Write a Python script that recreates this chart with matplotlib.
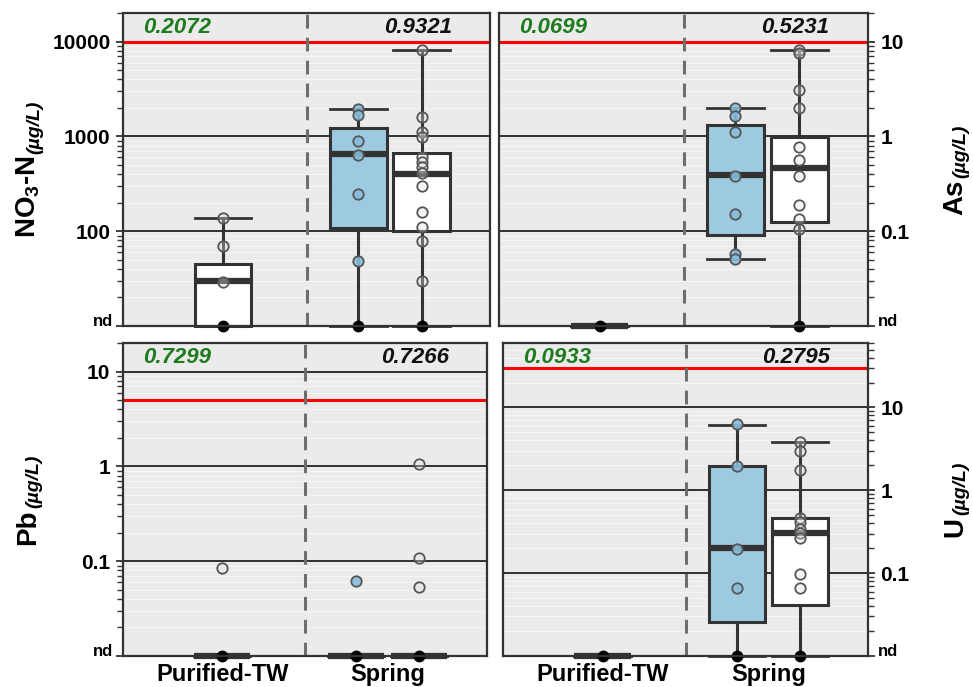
import numpy as np
import matplotlib
matplotlib.use("Agg")
import matplotlib.pyplot as plt
from matplotlib.ticker import LogLocator
from matplotlib.transforms import blended_transform_factory

plt.rcParams["font.family"] = ["Liberation Sans", "DejaVu Sans"]
plt.rcParams["font.weight"] = "bold"
plt.rcParams["mathtext.fontset"] = "custom"
plt.rcParams["mathtext.rm"] = "Liberation Sans"
plt.rcParams["mathtext.it"] = "Liberation Sans:italic"
plt.rcParams["mathtext.bf"] = "Liberation Sans:bold"

ND = 0  # non-detect, drawn on the bottom ("nd") line

groups = ["Purified-TW", "Spring"]
unit = "(\u00b5g/L)"

# ---- NO3-N (ug/L) ----
no3_tw = [137, 69, 29, ND]
no3_sp_a = [1955, 1690, 895, 637, 246, 49, ND]
no3_sp_b = [8090, 1600, 1100, 990, 610, 540, 480, 415, 300, 160, 110, 79, 30, ND]
no3_q1 = [ND, 108, 101]
no3_med = [30, 647, 400]
no3_q3 = [45, 1230, 675]
no3_lo = [ND, ND, ND]
no3_hi = [137, 1955, 8090]
no3_p = ["0.2072", "0.9321"]
no3_limit = 10000

# ---- As (ug/L) ----
as_tw = [ND]
as_sp_a = [1.97, 1.62, 1.12, 0.386, 0.151, 0.058, 0.051]
as_sp_b = [8.2, 7.5, 3.1, 1.97, 0.78, 0.57, 0.38, 0.19, 0.133, 0.106, ND]
as_q1 = [ND, 0.092, 0.126]
as_med = [ND, 0.39, 0.46]
as_q3 = [ND, 1.33, 0.98]
as_lo = [ND, 0.051, ND]
as_hi = [ND, 1.97, 8.1]
as_p = ["0.0699", "0.5231"]
as_limit = 10

# ---- Pb (ug/L) ----
pb_tw = [0.084, ND]
pb_sp_a = [0.062, ND]
pb_sp_b = [1.07, 0.107, 0.053, ND]
pb_q1 = [ND, ND, ND]
pb_med = [ND, ND, ND]
pb_q3 = [ND, ND, ND]
pb_lo = [ND, ND, ND]
pb_hi = [ND, ND, ND]
pb_p = ["0.7299", "0.7266"]
pb_limit = 5

# ---- U (ug/L) ----
u_tw = [ND]
u_sp_a = [6.24, 1.95, 0.198, 0.066, ND]
u_sp_b = [3.82, 2.98, 1.77, 0.469, 0.419, 0.339, 0.303, 0.269, 0.099, 0.066, ND]
u_q1 = [ND, 0.0257, 0.0407]
u_med = [ND, 0.2, 0.303]
u_q3 = [ND, 1.96, 0.465]
u_lo = [ND, ND, ND]
u_hi = [ND, 6.1, 3.8]
u_p = ["0.0933", "0.2795"]
u_limit = 30

POS = [0.0, 0.81, 1.19]
W = 0.34
BOX_FILL = ["white", "#9ecae1", "white"]
PT_FACE = [(0.88, 0.88, 0.88, 0.35), (0.53, 0.74, 0.86, 0.9), (0.88, 0.88, 0.88, 0.35)]
EDGE = "#333333"

W_PX, H_PX = 973, 687
fig = plt.figure(figsize=(W_PX / 100, H_PX / 100), dpi=100)


def add_axes_px(left, top, right, bottom):
    return fig.add_axes([left / W_PX, 1 - bottom / H_PX,
                         (right - left) / W_PX, (bottom - top) / H_PX])


def draw_panel(ax, floor, top, pts, q1, med, q3, lo, hi, limit, pvals,
               side, show_x):
    ax.set_yscale("log")
    ax.set_ylim(floor, top)
    ax.set_xlim(-0.6, 1.6)
    ax.set_facecolor("#ebebeb")
    ax.set_axisbelow(True)

    def fix(v):
        return floor if v == ND else v

    stats = []
    for i in range(3):
        stats.append(dict(med=fix(med[i]), q1=fix(q1[i]), q3=fix(q3[i]),
                          whislo=fix(lo[i]), whishi=fix(hi[i]), fliers=[]))
    art = ax.bxp(stats, positions=POS, widths=W, capwidths=[W] * 3,
                 patch_artist=True, showfliers=False,
                 boxprops=dict(edgecolor=EDGE, linewidth=2.2),
                 medianprops=dict(color=EDGE, linewidth=4.5,
                                  solid_capstyle="butt"),
                 whiskerprops=dict(color=EDGE, linewidth=2.2),
                 capprops=dict(color=EDGE, linewidth=2.0),
                 zorder=3)
    for patch, fc in zip(art["boxes"], BOX_FILL):
        patch.set_facecolor(fc)
        patch.set_clip_on(False)
    for key in ("medians", "whiskers", "caps"):
        for ln in art[key]:
            ln.set_clip_on(False)

    # sample points
    for x, vals, fc in zip(POS, pts, PT_FACE):
        det = [v for v in vals if v != ND]
        if det:
            ax.plot([x] * len(det), det, "o", ms=7.5, mfc=fc, mec="#555555",
                    mew=1.3, ls="none", zorder=5)
        if any(v == ND for v in vals):
            ax.plot([x], [floor], "o", ms=7.5, mfc="black", mec="black",
                    ls="none", zorder=6, clip_on=False)

    # guideline and group divider
    ax.axhline(limit, color="#ff0000", lw=2.2, zorder=2)
    ax.axvline(0.5, color="#6e6e6e", lw=2.2, ls=(0, (4.5, 3)), zorder=2)

    # y ticks: decades labelled, bottom line is "nd"
    dec = []
    v = floor * 10
    while v <= top * 1.0001:
        dec.append(v)
        v *= 10
    ax.set_yticks([floor] + dec)
    ax.set_yticklabels([""] + ["%g" % d for d in dec])
    ax.yaxis.set_minor_locator(LogLocator(base=10, subs=np.arange(2, 10)))
    ax.yaxis.set_minor_formatter(plt.NullFormatter())
    ax.grid(True, which="major", axis="y", color="#222222", lw=1.3)
    ax.grid(True, which="minor", axis="y", color="#f6f6f6", lw=0.7)
    ax.tick_params(axis="y", which="major", length=5, width=1.3,
                   color=EDGE, labelsize=15, pad=4)
    ax.tick_params(axis="y", which="minor", length=4, width=1.0, color=EDGE)

    tr = blended_transform_factory(ax.transAxes, ax.transData)
    if side == "right":
        ax.yaxis.tick_right()
        ax.text(1.027, floor, "nd", transform=tr, ha="left", va="baseline",
                fontsize=12, fontweight="bold")
    else:
        ax.text(-0.027, floor, "nd", transform=tr, ha="right", va="baseline",
                fontsize=12, fontweight="bold")

    ax.set_xticks([0, 1])
    if show_x:
        ax.set_xticklabels(groups, fontsize=17, fontweight="bold")
    else:
        ax.set_xticklabels(["", ""])
    ax.tick_params(axis="x", length=0, pad=5)

    for sp in ax.spines.values():
        sp.set_color(EDGE)
        sp.set_linewidth(1.6)
        sp.set_zorder(7)

    # p-values
    ty = blended_transform_factory(ax.transData, ax.transAxes)
    ax.text(-0.48, 0.955, pvals[0], transform=ty, ha="left", va="center",
            fontsize=16, fontweight="bold", fontstyle="italic",
            color="#1e7b1e", zorder=8)
    ax.text(1.37, 0.955, pvals[1], transform=ty, ha="right", va="center",
            fontsize=16, fontweight="bold", fontstyle="italic",
            color="#111111", zorder=8)


ax1 = add_axes_px(123, 13, 490, 326)
draw_panel(ax1, 10, 2e4, [no3_tw, no3_sp_a, no3_sp_b], no3_q1, no3_med,
           no3_q3, no3_lo, no3_hi, no3_limit, no3_p, "left", False)

ax2 = add_axes_px(499, 13, 868, 326)
draw_panel(ax2, 0.01, 20, [as_tw, as_sp_a, as_sp_b], as_q1, as_med,
           as_q3, as_lo, as_hi, as_limit, as_p, "right", False)

ax3 = add_axes_px(123, 343, 487, 656)
draw_panel(ax3, 0.01, 20, [pb_tw, pb_sp_a, pb_sp_b], pb_q1, pb_med,
           pb_q3, pb_lo, pb_hi, pb_limit, pb_p, "left", True)

ax4 = add_axes_px(503, 343, 868, 656)
draw_panel(ax4, 0.01, 60, [u_tw, u_sp_a, u_sp_b], u_q1, u_med,
           u_q3, u_lo, u_hi, u_limit, u_p, "right", True)


def rotated_label(ax, x_px, yc_px, name):
    """Vertical axis title: bold name followed by an italic unit subscript."""
    main = fig.text(x_px / W_PX, 0.5, name, rotation=90, ha="center",
                    va="bottom", fontsize=20, fontweight="bold")
    sub = ax.annotate(unit, xy=(1, 1), xycoords=main, xytext=(1, 1),
                      textcoords="offset points", rotation=90, ha="right",
                      va="bottom", fontsize=14, fontweight="bold",
                      fontstyle="italic", annotation_clip=False)
    r = fig.canvas.get_renderer()
    total = (main.get_window_extent(r).height
             + sub.get_window_extent(r).height + 1.4)
    main.set_y(((H_PX - yc_px) - total / 2) / H_PX)


rotated_label(ax1, 28, 169.5, r"NO$_3$-N")
rotated_label(ax2, 955, 169.5, "As")
rotated_label(ax3, 28, 499.5, "Pb")
rotated_label(ax4, 955, 499.5, "U")

fig.savefig("out.png", dpi=100)
